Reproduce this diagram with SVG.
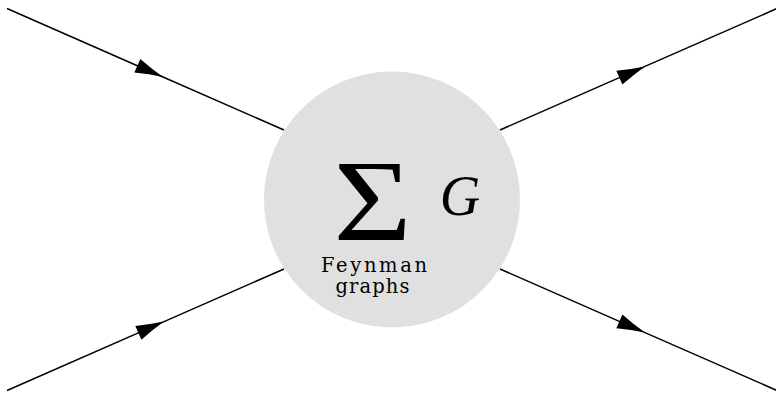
<svg xmlns="http://www.w3.org/2000/svg" width="776" height="393" viewBox="0 0 776 393">
<style>
.leg{fill:none;stroke:#000;stroke-width:1.5;marker-mid:url(#arr)}
.serif{font-family:"Liberation Serif","Times New Roman",serif;fill:#000}
.cap{font-family:"DejaVu Serif","Liberation Serif",serif;fill:#000;font-size:19.5px}
</style>
<defs>
<marker id="arr" markerUnits="userSpaceOnUse" markerWidth="40" markerHeight="20" viewBox="-30 -10 40 20" refX="0" refY="0" orient="auto" overflow="visible">
<path d="M-28,-7.5 Q-14,-3 0,0 Q-14,3 -28,7.5 Z" fill="#000"/>
</marker>
</defs>
<rect width="776" height="393" fill="#fff"/>
<g id="connectors">
<path class="leg" d="M7,8.5 L163,77 L284,130"/>
<path class="leg" d="M7,390.5 L164,321.6 L284,269"/>
<path class="leg" d="M500,130 L645,66.4 L777,8.5"/>
<path class="leg" d="M500,269 L645,332.6 L777,390.5"/>
</g>
<g id="blob">
<circle cx="392" cy="199.5" r="128" fill="#e0e0e0"/>
<text class="serif" transform="translate(372.5,240) scale(1.2,1.04)" font-size="112" text-anchor="middle">Σ</text>
<text class="serif" x="460" y="215" font-size="56" font-style="italic" text-anchor="middle">G</text>
<text class="cap" x="374" y="272" text-anchor="middle" textLength="106">Feynman</text>
<text class="cap" x="372.5" y="293" text-anchor="middle" textLength="74">graphs</text>
</g>
</svg>
